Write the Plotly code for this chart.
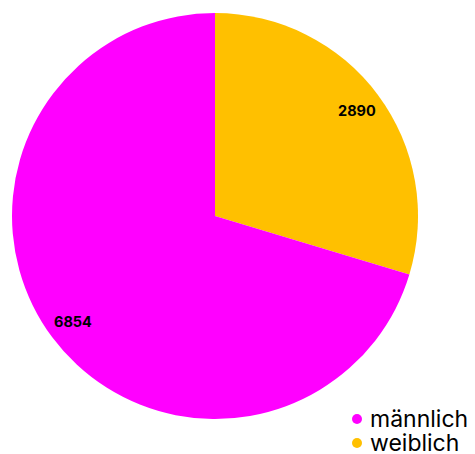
import math
import plotly.graph_objects as go

labels = ["männlich", "weiblich"]
values = [6854, 2890]
colors = ["#FF00FF", "#FFC000"]

# page body has an 8px margin -> figure sits at (8, 8) in the window
OFF = 8
W, H = 475 - OFF, 454 - OFF

def px(x):
    return (x - OFF) / W

def py(y):
    return 1 - (y - OFF) / H

# pie geometry (reference window pixels)
CX, CY, R = 215, 216, 203

# slices run clockwise from 12 o'clock starting with "weiblich"
order = [1, 0]
fig = go.Figure()
fig.add_trace(go.Pie(
    labels=[labels[i] for i in order], values=[values[i] for i in order],
    marker=dict(colors=[colors[i] for i in order]),
    direction="clockwise", sort=False, rotation=0,
    textinfo="none",
    domain=dict(x=[px(CX - R), px(CX + R)], y=[py(CY + R), py(CY - R)]),
    showlegend=False, hoverinfo="label+value",
))

# value labels near the outer edge of each slice
total = sum(values)
start = 0.0
for i in order:
    frac = values[i] / total
    mid = (start + frac / 2) * 2 * math.pi
    start += frac
    r = 0.87 * R
    lx = CX + r * math.sin(mid)
    ly = CY - r * math.cos(mid)
    fig.add_annotation(x=px(lx), y=py(ly), xref="paper", yref="paper",
                       xanchor="center", yanchor="middle", showarrow=False,
                       text=f"<b>{values[i]}</b>",
                       font=dict(family="Inter", size=14.5, color="black"))

# custom legend (circle markers) at bottom right
legend_rows = [419, 443]
for lab, col, ry in zip(labels, colors, legend_rows):
    fig.add_shape(type="circle", xref="paper", yref="paper",
                  x0=px(357 - 5), x1=px(357 + 5), y0=py(ry + 5), y1=py(ry - 5),
                  fillcolor=col, line=dict(width=0))
    fig.add_annotation(x=px(369), y=py(ry), xref="paper", yref="paper",
                       xanchor="left", yanchor="middle", showarrow=False,
                       height=22, valign="middle", borderpad=0,
                       text=lab, font=dict(family="Inter", size=23, color="black"))

fig.update_layout(
    width=W, height=H,
    margin=dict(l=0, r=0, t=0, b=0),
    paper_bgcolor="white", plot_bgcolor="white",
    font=dict(family="Inter", color="black"),
)
fig.write_html("out.html")
